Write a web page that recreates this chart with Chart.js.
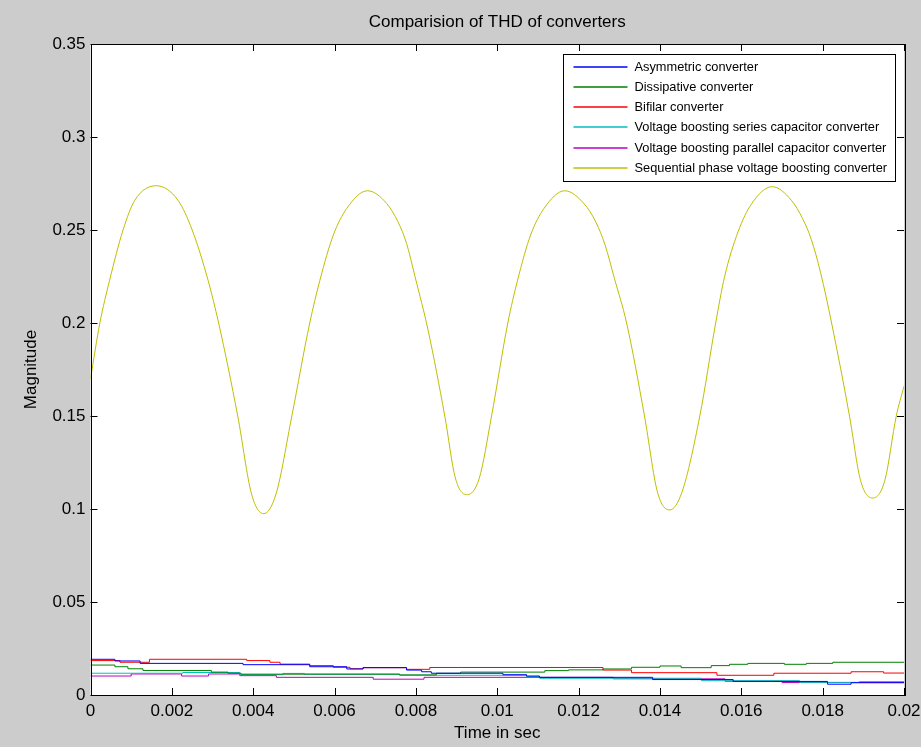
<!DOCTYPE html>
<html>
<head>
<meta charset="utf-8">
<title>Comparision of THD of converters</title>
<script src="https://cdn.jsdelivr.net/npm/chart.js@4.4.1/dist/chart.umd.min.js"></script>
<style>
  html, body { margin: 0; padding: 0; background: #ffffff; }
  #wrap { position: relative; width: 921px; height: 747px; }
</style>
</head>
<body>
<div id="wrap"><canvas id="thdChart"></canvas></div>
<script>

// tick values and labels
var xTickValues = [0, 0.002, 0.004, 0.006, 0.008, 0.01, 0.012, 0.014, 0.016, 0.018, 0.02];
var xTickLabels = ["0", "0.002", "0.004", "0.006", "0.008", "0.01", "0.012", "0.014", "0.016", "0.018", "0.02"];
var yTickValues = [0, 0.05, 0.1, 0.15, 0.2, 0.25, 0.3, 0.35];
var yTickLabels = ["0", "0.05", "0.1", "0.15", "0.2", "0.25", "0.3", "0.35"];

var seriesNames = [
  "Asymmetric converter",
  "Dissipative converter",
  "Bifilar converter",
  "Voltage boosting series capacitor converter",
  "Voltage boosting parallel capacitor converter",
  "Sequential phase voltage boosting converter"
];

// Asymmetric converter (step changes)
var asymTime = [0, 0.0006, 0.00122, 0.00375, 0.00539, 0.0063, 0.0067, 0.00777, 0.00814, 0.00838, 0.01014, 0.01072, 0.01104, 0.01382, 0.0158, 0.01812, 0.0187, 0.02];
var asymValues = [0.0192, 0.0183, 0.0170, 0.0163, 0.0152, 0.0140, 0.0147, 0.0134, 0.0125, 0.0117, 0.0109, 0.0102, 0.0095, 0.0083, 0.0073, 0.0058, 0.0066, 0.0066];

// Dissipative converter
var dissTime = [0, 0.0006, 0.00092, 0.00129, 0.00297, 0.00338, 0.0037, 0.0076, 0.0085, 0.0091, 0.01117, 0.01175, 0.0126, 0.0133, 0.0140, 0.01452, 0.01526, 0.01571, 0.01616, 0.01706, 0.0176, 0.01825, 0.02];
var dissValues = [0.0161, 0.0152, 0.0141, 0.0132, 0.0123, 0.0117, 0.0112, 0.0108, 0.0117, 0.0123, 0.0131, 0.0135, 0.0140, 0.0149, 0.0156, 0.0147, 0.0158, 0.0165, 0.0170, 0.0165, 0.0170, 0.0176, 0.0176];

// Bifilar converter
var bifTime = [0, 0.000725, 0.00145, 0.00384, 0.00441, 0.00466, 0.00539, 0.00597, 0.00638, 0.0067, 0.00777, 0.00834, 0.0126, 0.0133, 0.0154, 0.0168, 0.0187, 0.0195, 0.02];
var bifValues = [0.0185, 0.0176, 0.0192, 0.0185, 0.0176, 0.0166, 0.0158, 0.0149, 0.0141, 0.0147, 0.0138, 0.0148, 0.0134, 0.0120, 0.0106, 0.0117, 0.0125, 0.0118, 0.0118];

// Voltage boosting series capacitor converter
var seriesCapTime = [0, 0.00227, 0.00367, 0.00473, 0.00526, 0.0076, 0.01072, 0.01104, 0.01502, 0.01743, 0.0189, 0.02];
var seriesCapValues = [0.0117, 0.0121, 0.0109, 0.0116, 0.0112, 0.0106, 0.0099, 0.0090, 0.0077, 0.0068, 0.0072, 0.0072];

// Voltage boosting parallel capacitor converter
var parCapTime = [0, 0.001, 0.00224, 0.0029, 0.00367, 0.00457, 0.00695, 0.0082, 0.01285, 0.0156, 0.0170, 0.02];
var parCapValues = [0.0102, 0.0113, 0.0102, 0.0113, 0.0104, 0.0095, 0.0085, 0.0095, 0.0087, 0.0074, 0.0067, 0.0067];

// Sequential phase voltage boosting converter
var seqTime = [0, 0.00023, 0.00047, 0.0008, 0.00109, 0.00162, 0.00215, 0.0025, 0.00289, 0.00315, 0.00362, 0.00396, 0.00426, 0.00456,
  0.00495, 0.00539, 0.00564, 0.00597, 0.0063, 0.00681, 0.00728, 0.00756, 0.00777, 0.00798, 0.0083, 0.00871, 0.00897, 0.00926, 0.00956,
  0.00986, 0.01026, 0.0105, 0.01082, 0.01115, 0.01166, 0.01214, 0.01243, 0.01265, 0.01288, 0.01318, 0.01362, 0.01394, 0.01424, 0.01454,
  0.01498, 0.01537, 0.01559, 0.01592, 0.01625, 0.01676, 0.01723, 0.01751, 0.01772, 0.01795, 0.01822, 0.01866, 0.01893, 0.01923, 0.01953,
  0.01981, 0.02];
var seqValues = [0.170, 0.200, 0.223, 0.250, 0.266, 0.2738, 0.266, 0.250, 0.223, 0.200, 0.150, 0.108, 0.0975, 0.108,
  0.150, 0.200, 0.223, 0.2473, 0.2616, 0.2711, 0.2643, 0.2544, 0.2428, 0.2248, 0.1961, 0.150, 0.1167, 0.1077, 0.1167,
  0.150, 0.200, 0.223, 0.2473, 0.2616, 0.2711, 0.264, 0.254, 0.242, 0.224, 0.200, 0.150, 0.109, 0.0995, 0.109,
  0.150, 0.200, 0.225, 0.249, 0.264, 0.2733, 0.266, 0.256, 0.245, 0.227, 0.200, 0.150, 0.1155, 0.1059, 0.1155,
  0.150, 0.166];

var lineColors = ["#0000ff", "#008000", "#ff0000", "#00bfbf", "#bf00bf", "#bfbf00"];

var fontFamily = "'Liberation Sans', Arial, Helvetica, sans-serif";


function toPoints(times, values) {

  var pts = [];
  for (var i = 0; i < times.length; i++) {
    pts.push({ x: times[i], y: values[i] });
  }
  return pts;
}

function makeDataset(index, times, values, stepped) {

  return {
    label: seriesNames[index],
    data: toPoints(times, values),
    borderColor: lineColors[index],
    backgroundColor: lineColors[index],
    borderWidth: 1,
    pointRadius: 0,
    fill: false,
    stepped: stepped,
    cubicInterpolationMode: stepped ? "default" : "monotone"
  };
}

// gray figure, white axes, box, inward ticks and legend like the matlab figure
var matlabLook = {
  id: "matlabLook",

  beforeDraw: function(chart) {
    var ctx = chart.ctx;
    var a = chart.chartArea;
    ctx.save();
    ctx.fillStyle = "#cccccc";
    ctx.fillRect(0, 0, chart.width, chart.height);
    ctx.fillStyle = "#ffffff";
    ctx.fillRect(a.left, a.top, a.right - a.left, a.bottom - a.top);
    ctx.restore();
  },

  afterDatasetsDraw: function(chart) {
    var ctx = chart.ctx;
    var a = chart.chartArea;
    var xs = chart.scales.x;
    var ys = chart.scales.y;
    var tl = 7;
    var i, p;

    ctx.save();
    ctx.strokeStyle = "#000000";
    ctx.lineWidth = 1;

    ctx.beginPath();
    for (i = 0; i < xTickValues.length; i++) {
      p = Math.round(xs.getPixelForValue(xTickValues[i])) + 0.5;
      ctx.moveTo(p, a.bottom);
      ctx.lineTo(p, a.bottom - tl);
      ctx.moveTo(p, a.top);
      ctx.lineTo(p, a.top + tl);
    }
    for (i = 0; i < yTickValues.length; i++) {
      p = Math.round(ys.getPixelForValue(yTickValues[i])) + 0.5;
      ctx.moveTo(a.left, p);
      ctx.lineTo(a.left + tl, p);
      ctx.moveTo(a.right, p);
      ctx.lineTo(a.right - tl, p);
    }
    ctx.stroke();

    ctx.strokeRect(Math.round(a.left) + 0.5, Math.round(a.top) + 0.5,
      Math.round(a.right - a.left), Math.round(a.bottom - a.top));

    // legend box
    var bw = 332;
    var bx = Math.round(a.right - 9 - bw) + 0.5;
    var by = Math.round(a.top + 10) + 0.5;
    var bh = 127;
    ctx.fillStyle = "#ffffff";
    ctx.fillRect(bx, by, bw, bh);
    ctx.strokeStyle = "#000000";
    ctx.strokeRect(bx, by, bw, bh);

    ctx.font = "12.8px " + fontFamily;
    ctx.textBaseline = "middle";
    ctx.textAlign = "left";
    var sets = chart.data.datasets;
    for (i = 0; i < sets.length; i++) {
      var ry = Math.round(by + 12 + i * 20.3);
      ctx.strokeStyle = lineColors[i];
      ctx.lineWidth = 1.4;
      ctx.beginPath();
      ctx.moveTo(bx + 10, ry);
      ctx.lineTo(bx + 64, ry);
      ctx.stroke();
      ctx.fillStyle = "#000000";
      ctx.fillText(sets[i].label, bx + 71, ry);
    }
    ctx.restore();
  }
};


function printChart() {

  var ctx = document.getElementById("thdChart").getContext("2d");

  var chart = new Chart(ctx, {

    type: "line",

    data: {
      datasets: [
        makeDataset(0, asymTime, asymValues, true),
        makeDataset(1, dissTime, dissValues, true),
        makeDataset(2, bifTime, bifValues, true),
        makeDataset(3, seriesCapTime, seriesCapValues, true),
        makeDataset(4, parCapTime, parCapValues, true),
        makeDataset(5, seqTime, seqValues, false)
      ]
    },

    options: {
      responsive: true,
      maintainAspectRatio: false,
      animation: false,
      layout: {
        padding: { left: 0, right: 17, top: 0, bottom: 0 }
      },
      plugins: {
        legend: { display: false },
        tooltip: { enabled: false },
        title: {
          display: true,
          text: "Comparision of THD of converters",
          fullSize: false,
          color: "#000000",
          font: { family: fontFamily, size: 17, weight: "normal" },
          padding: { top: 12.6, bottom: 11 }
        }
      },
      scales: {
        x: {
          type: "linear",
          min: 0,
          max: 0.02,
          grid: { display: false, drawTicks: false },
          border: { display: false },
          afterBuildTicks: function(scale) {
            scale.ticks = xTickValues.map(function(v) { return { value: v }; });
          },
          afterFit: function(scale) {
            scale.height = 52;
            scale.paddingLeft = 0;
            scale.paddingRight = 0;
          },
          ticks: {
            autoSkip: false,
            maxRotation: 0,
            padding: 6,
            color: "#000000",
            font: { family: fontFamily, size: 17 },
            callback: function(value, index) {
              return xTickLabels[index];
            }
          },
          title: {
            display: true,
            text: "Time in sec",
            color: "#000000",
            font: { family: fontFamily, size: 17 },
            padding: { top: 0, bottom: 3 }
          }
        },
        y: {
          type: "linear",
          min: 0,
          max: 0.35,
          grid: { display: false, drawTicks: false },
          border: { display: false },
          afterBuildTicks: function(scale) {
            scale.ticks = yTickValues.map(function(v) { return { value: v }; });
          },
          afterFit: function(scale) {
            scale.width = 90.5;
          },
          ticks: {
            autoSkip: false,
            padding: 5,
            color: "#000000",
            font: { family: fontFamily, size: 17 },
            callback: function(value, index) {
              return yTickLabels[index];
            }
          },
          title: {
            display: true,
            text: "Magnitude",
            color: "#000000",
            font: { family: fontFamily, size: 17 },
            padding: { top: 21, bottom: 0 }
          }
        }
      }
    },

    plugins: [matlabLook]
  });
}


function init() {
  printChart();
}

document.addEventListener("DOMContentLoaded", init);

</script>
</body>
</html>
